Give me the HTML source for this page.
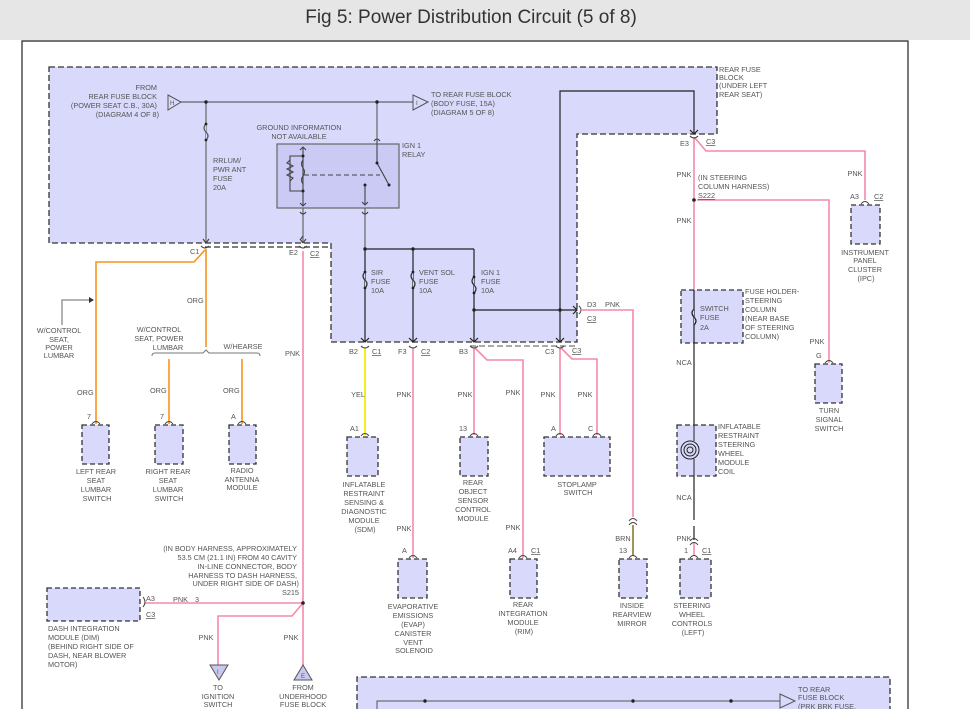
<!DOCTYPE html>
<html><head><meta charset="utf-8"><style>
html,body{margin:0;padding:0;background:#fff;width:970px;height:709px;overflow:hidden}
.hdr{position:absolute;left:0;top:0;width:970px;height:40px;background:#e6e6e6;}
.hdr div{position:absolute;left:0;width:942px;top:7px;text-align:center;font:19px "Liberation Sans",sans-serif;color:#333}
svg{position:absolute;left:0;top:0}
text{font-family:"Liberation Sans",sans-serif;font-size:7.3px;fill:#555}
.r{text-anchor:end}.m{text-anchor:middle}
</style></head><body>
<div class="hdr"><div>Fig 5: Power Distribution Circuit (5 of 8)</div></div>
<svg width="970" height="709" viewBox="0 0 970 709">
<!-- frame -->
<path d="M22 709 V41 H908 V709" fill="none" stroke="#222" stroke-width="1.2"/>
<!-- main shaded box -->
<path d="M49 67 H717 V134 H577 V342 H331 V243 H49 Z" fill="#d9d9fb" stroke="#333" stroke-width="1.3" stroke-dasharray="6,3"/>
<path d="M205 247 H331" stroke="#333" stroke-width="1.3" stroke-dasharray="6,3"/>
<path d="M470 346 H577" stroke="#777" stroke-width="1.3" stroke-dasharray="6,3"/>
<!-- bottom box -->
<path d="M357 709 V677 H890 V709" fill="#d9d9fb" stroke="#333" stroke-width="1.3" stroke-dasharray="6,3"/>
<path d="M377 709 V701 H780" stroke="#555" fill="none"/>
<circle cx="425" cy="701" r="1.7" fill="#222"/><circle cx="633" cy="701" r="1.7" fill="#222"/><circle cx="731" cy="701" r="1.7" fill="#222"/>
<path d="M780 694 L795 701 L780 708 Z" fill="#d9d9fb" stroke="#555"/>
<text x="798" y="692">TO REAR</text><text x="798" y="700">FUSE BLOCK</text><text x="798" y="709">(PRK BRK FUSE,</text>

<!-- internal gray wiring -->
<g stroke="#666" fill="none" stroke-width="1.2">
<path d="M181 102 H413"/>
<path d="M206 102 V243"/>
<path d="M377 102 V140"/>
<path d="M303 196 V243"/>
<path d="M365 196 V249"/>
</g>
<path d="M168 95 L181 102 L168 110 Z" fill="#d9d9fb" stroke="#555"/>
<text x="170" y="105" style="font-size:6px">H</text>
<path d="M413 95 L428 102 L413 110 Z" fill="#d9d9fb" stroke="#555"/>
<text x="416" y="105" style="font-size:6px">I</text>
<circle cx="206" cy="102" r="1.7" fill="#222"/><circle cx="377" cy="102" r="1.7" fill="#222"/>
<!-- fuse symbol RRLUM -->
<path d="M206 124 q-4 4 0 8 q4 4 0 8" fill="#d9d9fb" stroke="#555" stroke-width="1.2"/>
<text x="157" y="90" class="r">FROM</text>
<text x="157" y="99" class="r">REAR FUSE BLOCK</text>
<text x="157" y="108" class="r">(POWER SEAT C.B., 30A)</text>
<text x="159" y="117" class="r">(DIAGRAM 4 OF 8)</text>
<text x="431" y="97">TO REAR FUSE BLOCK</text>
<text x="431" y="106">(BODY FUSE, 15A)</text>
<text x="431" y="115">(DIAGRAM 5 OF 8)</text>
<text x="213" y="163">RRLUM/</text><text x="213" y="172">PWR ANT</text><text x="213" y="181">FUSE</text><text x="213" y="190">20A</text>
<text x="299" y="130" class="m">GROUND INFORMATION</text><text x="299" y="139" class="m">NOT AVAILABLE</text>
<text x="402" y="148">IGN 1</text><text x="402" y="157">RELAY</text>
<text x="719" y="72">REAR FUSE</text><text x="719" y="80">BLOCK</text><text x="719" y="88">(UNDER LEFT</text><text x="719" y="97">REAR SEAT)</text>
<!-- relay -->
<rect x="277" y="144" width="122" height="64" fill="#cacaf5" stroke="#666" stroke-width="1.2"/>
<g stroke="#444" fill="none" stroke-width="1.1">
<path d="M303 147 V206 M300 150 l3 -3 l3 3 M300 203 l3 3 l3 -3"/>
<path d="M303 156 H290 V191 H303"/>
<path d="M290 160 l-3 3 l6 3 l-6 3 l6 3 l-6 3 l6 3 l-3 3"/>
<path d="M303 160 q-3 4 0 8 q3 4 0 8 q-3 4 0 8" />
<path d="M304 175 H380" stroke-dasharray="5,3"/>
<path d="M377 140 V163 L389 185"/>
<path d="M365 185 V205 M362 202 l3 3 l3 -3"/>
<path d="M374 141 q3 -4 6 0"/>
<path d="M300 212 q3 4 6 0 M362 212 q3 4 6 0"/>
<path d="M303 236 l-3 4 M303 243 l-3 -4 M303 243 l3 -4"/>
<path d="M206 243 l-3 -4 M206 243 l3 -4"/>
</g>
<circle cx="303" cy="156" r="1.5" fill="#222"/><circle cx="303" cy="191" r="1.5" fill="#222"/><circle cx="377" cy="163" r="1.5" fill="#222"/><circle cx="389" cy="185" r="1.5" fill="#222"/><circle cx="365" cy="185" r="1.5" fill="#222"/>

<!-- black wiring -->
<g stroke="#222" fill="none" stroke-width="1.2">
<path d="M365 249 H474"/>
<path d="M365 249 V342 M413 249 V342 M474 249 V342"/>
<path d="M474 310 H577"/>
<path d="M560 342 V91 H694 V134"/>
<path d="M361 338 l4 4 l4 -4 M409 338 l4 4 l4 -4 M470 338 l4 4 l4 -4 M556 338 l4 4 l4 -4 M690 130 l4 4 l4 -4 M573 306 l4 4 l-4 4"/>
<path d="M694 343 V520 M694 526 V540"/>
</g>
<g fill="#d9d9fb" stroke="#333" stroke-width="1.2">
<path d="M365 272 q-4 4 0 8 q4 4 0 8"/><path d="M413 272 q-4 4 0 8 q4 4 0 8"/><path d="M474 277 q-4 4 0 8 q4 4 0 8"/>
</g>
<g fill="#222"><circle cx="365" cy="249" r="1.7"/><circle cx="413" cy="249" r="1.7"/><circle cx="474" cy="310" r="1.7"/><circle cx="560" cy="310" r="1.7"/>
<circle cx="365" cy="272" r="1.4"/><circle cx="365" cy="288" r="1.4"/><circle cx="413" cy="272" r="1.4"/><circle cx="413" cy="288" r="1.4"/><circle cx="474" cy="277" r="1.4"/><circle cx="474" cy="293" r="1.4"/><circle cx="206" cy="124" r="1.4"/><circle cx="206" cy="140" r="1.4"/></g>
<text x="371" y="275">SIR</text><text x="371" y="284">FUSE</text><text x="371" y="293">10A</text>
<text x="419" y="275">VENT SOL</text><text x="419" y="284">FUSE</text><text x="419" y="293">10A</text>
<text x="481" y="275">IGN 1</text><text x="481" y="284">FUSE</text><text x="481" y="293">10A</text>

<!-- connector labels main box -->
<text x="190" y="254">C1</text><text x="289" y="255">E2</text><text x="310" y="256" style="text-decoration:underline">C2</text>
<text x="349" y="354">B2</text><text x="372" y="354" style="text-decoration:underline">C1</text>
<text x="398" y="354">F3</text><text x="421" y="354" style="text-decoration:underline">C2</text>
<text x="459" y="354">B3</text>
<text x="545" y="354">C3</text><text x="572" y="353" style="text-decoration:underline">C3</text>
<text x="587" y="307">D3</text><text x="587" y="321" style="text-decoration:underline">C3</text><text x="605" y="307">PNK</text>
<text x="680" y="146">E3</text><text x="706" y="144" style="text-decoration:underline">C3</text>

<!-- orange wires -->
<g stroke="#f7941d" fill="none" stroke-width="1.6">
<path d="M206 249 V347"/>
<path d="M205 250 L194 262 H96 V424"/>
<path d="M169 359 V424 M242 359 V424"/>
</g>
<path d="M152 356 q0 -3 3 -3 H203 l3 -3 l3 3 H257 q3 0 3 3" stroke="#777" fill="none"/>
<path d="M62 325 V300 H90" stroke="#888" fill="none" stroke-width="1.3"/><path d="M89 297 l5 3 l-5 3z" fill="#333"/>
<text x="59" y="333" class="m">W/CONTROL</text><text x="59" y="342" class="m">SEAT,</text><text x="59" y="350" class="m">POWER</text><text x="59" y="358" class="m">LUMBAR</text>
<text x="159" y="332" class="m">W/CONTROL</text><text x="159" y="341" class="m">SEAT, POWER</text><text x="168" y="350" class="m">LUMBAR</text>
<text x="243" y="349" class="m">W/HEARSE</text>
<text x="187" y="303">ORG</text><text x="77" y="395">ORG</text><text x="150" y="393">ORG</text><text x="223" y="393">ORG</text>

<!-- pink wires -->
<g stroke="#f48aa8" fill="none" stroke-width="1.6">
<path d="M303 251 V665"/>
<path d="M145 603 H303 M303 603 L292 616 H218 V665"/>
<path d="M413 348 V558"/>
<path d="M474 348 V435 M475 348 L487 360 H523 V558"/>
<path d="M560 348 V435 M561 348 L572 359 H597 V435"/>
<path d="M582 310 H633 V517"/>
<path d="M694 137 V290 M695 138 L706 151 H865 V200"/>
<path d="M697 200 H829 V363"/>
<path d="M694 542 V556"/>
</g>
<path d="M633 525 V556" stroke="#8b7a2b" stroke-width="1.6"/>
<path d="M365 348 V435" stroke="#f0f000" stroke-width="1.8"/>
<circle cx="694" cy="200" r="1.8" fill="#222"/><circle cx="303" cy="603" r="1.8" fill="#222"/>
<g stroke="#444" fill="none" stroke-width="1">
<path d="M629 521 q4 -5 8 0 M629 525 q4 -5 8 0 M690 541 q4 -5 8 0 M690 545 q4 -5 8 0"/>
<path d="M361 346 q4 4 8 0 M409 346 q4 4 8 0 M470 346 q4 4 8 0 M556 346 q4 4 8 0 M690 136 q4 4 8 0 M579 306 q4 4 0 8 M201 246 q4 4 8 0 M299 246 q4 4 8 0"/>
</g>
<text x="285" y="356">PNK</text>
<text x="358" y="397" class="m">YEL</text><text x="404" y="397" class="m">PNK</text><text x="465" y="397" class="m">PNK</text><text x="513" y="395" class="m">PNK</text><text x="548" y="397" class="m">PNK</text><text x="585" y="397" class="m">PNK</text>
<text x="404" y="531" class="m">PNK</text><text x="513" y="530" class="m">PNK</text><text x="623" y="541" class="m">BRN</text><text x="684" y="541" class="m">PNK</text>
<text x="684" y="177" class="m">PNK</text><text x="684" y="223" class="m">PNK</text><text x="855" y="176" class="m">PNK</text><text x="817" y="344" class="m">PNK</text>
<text x="684" y="365" class="m">NCA</text><text x="684" y="500" class="m">NCA</text>
<text x="698" y="180">(IN STEERING</text><text x="698" y="189">COLUMN HARNESS)</text><text x="698" y="198" style="text-decoration:underline">S222</text>
<text x="206" y="640" class="m">PNK</text><text x="291" y="640" class="m">PNK</text>
<text x="173" y="602">PNK</text><text x="195" y="602">3</text><text x="146" y="601">A3</text><text x="146" y="617" style="text-decoration:underline">C3</text>
<text x="297" y="551" class="r">(IN BODY HARNESS, APPROXIMATELY</text>
<text x="297" y="560" class="r">53.5 CM (21.1 IN) FROM 40 CAVITY</text>
<text x="297" y="569" class="r">IN-LINE CONNECTOR, BODY</text>
<text x="297" y="578" class="r">HARNESS TO DASH HARNESS,</text>
<text x="299" y="586" class="r">UNDER RIGHT SIDE OF DASH)</text>
<text x="299" y="595" class="r">S215</text>
<path d="M143 597 q4 5 0 10" stroke="#444" fill="none"/>
<path d="M210 665 H228 L219 680 Z" fill="#c9c9f0" stroke="#555"/><text x="217" y="674" style="font-size:6px">I</text>
<path d="M294 680 H312 L303 665 Z" fill="#c9c9f0" stroke="#555"/><text x="301" y="678" style="font-size:6px">E</text>
<text x="218" y="690" class="m">TO</text><text x="218" y="699" class="m">IGNITION</text><text x="218" y="707" class="m">SWITCH</text>
<text x="303" y="690" class="m">FROM</text><text x="303" y="699" class="m">UNDERHOOD</text><text x="303" y="707" class="m">FUSE BLOCK</text>

<!-- component boxes -->
<g fill="#d9d9fb" stroke="#333" stroke-width="1.3" stroke-dasharray="5,3">
<rect x="82" y="425" width="27" height="39"/>
<rect x="155" y="425" width="28" height="39"/>
<rect x="229" y="425" width="27" height="39"/>
<rect x="347" y="437" width="31" height="39"/>
<rect x="460" y="437" width="28" height="39"/>
<rect x="544" y="437" width="66" height="39"/>
<rect x="398" y="559" width="29" height="39"/>
<rect x="510" y="559" width="27" height="39"/>
<rect x="619" y="559" width="28" height="39"/>
<rect x="680" y="559" width="31" height="39"/>
<rect x="677" y="425" width="39" height="51"/>
<rect x="681" y="290" width="62" height="53"/>
<rect x="851" y="205" width="29" height="39"/>
<rect x="815" y="364" width="27" height="39"/>
<rect x="47" y="588" width="93" height="33"/>
</g>
<g stroke="#444" fill="none" stroke-width="1">
<path d="M92 424 q4 -5 8 0 M165 424 q4 -5 8 0 M238 424 q4 -5 8 0 M361 436 q4 -5 8 0 M470 436 q4 -5 8 0 M556 436 q4 -5 8 0 M593 436 q4 -5 8 0 M409 558 q4 -5 8 0 M519 558 q4 -5 8 0 M629 558 q4 -5 8 0 M690 558 q4 -5 8 0 M861 204 q4 -5 8 0 M825 363 q4 -5 8 0"/>
</g>
<!-- switch fuse -->
<path d="M694 290 V343" stroke="#222" stroke-width="1.2"/>
<path d="M694 309 q-4 4 0 8 q4 4 0 8" fill="#d9d9fb" stroke="#222" stroke-width="1.2"/>
<text x="700" y="311">SWITCH</text><text x="700" y="320">FUSE</text><text x="700" y="330">2A</text>
<text x="745" y="294">FUSE HOLDER-</text><text x="745" y="303">STEERING</text><text x="745" y="312">COLUMN</text><text x="745" y="321">(NEAR BASE</text><text x="745" y="330">OF STEERING</text><text x="745" y="339">COLUMN)</text>
<!-- coil -->
<g stroke="#222" fill="none" stroke-width="1"><circle cx="690" cy="450" r="9"/><circle cx="690" cy="450" r="6"/><circle cx="690" cy="450" r="3"/><path d="M694 425 V441 M694 459 V476"/></g>
<text x="718" y="429">INFLATABLE</text><text x="718" y="438">RESTRAINT</text><text x="718" y="447">STEERING</text><text x="718" y="456">WHEEL</text><text x="718" y="465">MODULE</text><text x="718" y="474">COIL</text>
<!-- pin labels -->
<text x="87" y="419">7</text><text x="160" y="419">7</text><text x="231" y="419">A</text>
<text x="350" y="431">A1</text><text x="459" y="431">13</text><text x="551" y="431">A</text><text x="588" y="431">C</text>
<text x="402" y="553">A</text><text x="508" y="553">A4</text><text x="531" y="553" style="text-decoration:underline">C1</text>
<text x="619" y="553">13</text><text x="684" y="553">1</text><text x="702" y="553" style="text-decoration:underline">C1</text>
<text x="850" y="199">A3</text><text x="874" y="199" style="text-decoration:underline">C2</text><text x="816" y="358">G</text>
<!-- component names -->
<g class="m">
<text x="96" y="474" class="m">LEFT REAR</text><text x="96" y="483" class="m">SEAT</text><text x="96" y="492" class="m">LUMBAR</text><text x="97" y="501" class="m">SWITCH</text>
<text x="168" y="474" class="m">RIGHT REAR</text><text x="168" y="483" class="m">SEAT</text><text x="168" y="492" class="m">LUMBAR</text><text x="169" y="501" class="m">SWITCH</text>
<text x="242" y="473" class="m">RADIO</text><text x="242" y="482" class="m">ANTENNA</text><text x="242" y="490" class="m">MODULE</text>
<text x="364" y="487" class="m">INFLATABLE</text><text x="364" y="496" class="m">RESTRAINT</text><text x="364" y="505" class="m">SENSING &amp;</text><text x="364" y="514" class="m">DIAGNOSTIC</text><text x="364" y="523" class="m">MODULE</text><text x="365" y="532" class="m">(SDM)</text>
<text x="473" y="485" class="m">REAR</text><text x="473" y="494" class="m">OBJECT</text><text x="473" y="503" class="m">SENSOR</text><text x="473" y="512" class="m">CONTROL</text><text x="473" y="521" class="m">MODULE</text>
<text x="577" y="487" class="m">STOPLAMP</text><text x="578" y="495" class="m">SWITCH</text>
<text x="413" y="609" class="m">EVAPORATIVE</text><text x="413" y="618" class="m">EMISSIONS</text><text x="413" y="627" class="m">(EVAP)</text><text x="413" y="636" class="m">CANISTER</text><text x="413" y="645" class="m">VENT</text><text x="414" y="653" class="m">SOLENOID</text>
<text x="523" y="607" class="m">REAR</text><text x="523" y="616" class="m">INTEGRATION</text><text x="523" y="625" class="m">MODULE</text><text x="524" y="634" class="m">(RIM)</text>
<text x="632" y="608" class="m">INSIDE</text><text x="632" y="617" class="m">REARVIEW</text><text x="632" y="626" class="m">MIRROR</text>
<text x="692" y="608" class="m">STEERING</text><text x="692" y="617" class="m">WHEEL</text><text x="692" y="626" class="m">CONTROLS</text><text x="693" y="635" class="m">(LEFT)</text>
<text x="865" y="255" class="m">INSTRUMENT</text><text x="865" y="263" class="m">PANEL</text><text x="865" y="272" class="m">CLUSTER</text><text x="866" y="281" class="m">(IPC)</text>
<text x="829" y="413" class="m">TURN</text><text x="829" y="422" class="m">SIGNAL</text><text x="829" y="431" class="m">SWITCH</text>
</g>
<text x="48" y="631">DASH INTEGRATION</text><text x="48" y="640">MODULE (DIM)</text><text x="48" y="649">(BEHIND RIGHT SIDE OF</text><text x="48" y="658">DASH, NEAR BLOWER</text><text x="48" y="667">MOTOR)</text>
</svg>
</body></html>
